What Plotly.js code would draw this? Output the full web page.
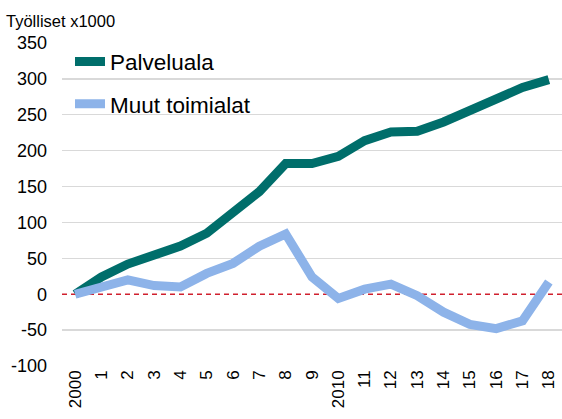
<!DOCTYPE html>
<html>
<head>
<meta charset="utf-8">
<script src="https://cdn.plot.ly/plotly-3.0.1.min.js"></script>
<style>html,body{margin:0;padding:0;background:#fff}#chart{width:562px;height:419px}</style>
</head>
<body>
<div id="chart"></div>
<script>
const years = [2000,2001,2002,2003,2004,2005,2006,2007,2008,2009,2010,2011,2012,2013,2014,2015,2016,2017,2018];
const tickLabels = ["2000","1","2","3","4","5","6","7","8","9","2010","11","12","13","14","15","16","17","18"];
const gridVals = [-100,-50,50,100,150,200,250,300,350];
const gridLabels = ["-100","-50","50","100","150","200","250","300","350"];
const zeroVals = [0];
const zeroLabels = ["0"];
const palveluala = [0,24,42,53,67,85,113,143,182,182,192,214,226,227,240,256,272,288,299];
const muutToimialat = [0,10,20,12,10,29,43,67,84,24,-6,7,14,-2,-25,-42,-48,-37,17];
const seriesNames = ["Palveluala","Muut toimialat"];
const titleText = 'Työlliset x1000';

const fontFam = '"Liberation Sans", Arial, sans-serif';
const yRange = [-100, 350];

const traces = [
  {x: [], y: [], yaxis: 'y2', type: 'scatter', mode: 'lines', showlegend: false, hoverinfo: 'skip'},
  {x: years, y: palveluala, name: seriesNames[0], type: 'scatter', mode: 'lines',
   line: {color: '#006E6B', width: 9}, legendgroup: 'a'},
  {x: years, y: muutToimialat, name: seriesNames[1], type: 'scatter', mode: 'lines',
   line: {color: '#8DB3E9', width: 9}, legendgroup: 'b'}
];

const tickFont = {size: 18, family: fontFam, color: '#000'};

const layout = {
  width: 562, height: 419,
  margin: {l: 62, r: 0, t: 43, b: 53, pad: 0},
  paper_bgcolor: '#ffffff', plot_bgcolor: '#ffffff',
  font: {family: fontFam, color: '#000'},
  showlegend: true,
  legend: {x: 0.016, y: 1.008, xanchor: 'left', yanchor: 'top', bgcolor: 'rgba(0,0,0,0)',
           font: {size: 22.5, family: fontFam, color: '#000'}, traceorder: 'grouped', tracegroupgap: 10},
  xaxis: {range: [1999.5, 2018.5], tickmode: 'array', tickvals: years, ticktext: tickLabels,
          tickangle: -90, showgrid: false, zeroline: false, showline: false, ticks: '',
          tickfont: {size: 17, family: fontFam, color: '#000'}, fixedrange: true},
  yaxis: {range: yRange, tickmode: 'array', tickvals: gridVals, ticktext: gridLabels,
          showgrid: true, gridcolor: '#d9d9d9', gridwidth: 1.3,
          zeroline: false, showline: false, ticks: '', ticklabelstandoff: 14,
          tickfont: tickFont, fixedrange: true},
  yaxis2: {range: yRange, overlaying: 'y', side: 'left', tickmode: 'array', tickvals: zeroVals, ticktext: zeroLabels,
          showgrid: false, zeroline: false, showline: false, ticks: '', ticklabelstandoff: 14,
          tickfont: tickFont, fixedrange: true},
  annotations: [
    {text: titleText, showarrow: false, xref: 'paper', yref: 'paper',
     x: (5 - 62) / 500, xanchor: 'left', y: 1 + (43 - 11) / 323, yanchor: 'top',
     font: {size: 16.5, family: fontFam, color: '#000'}, borderpad: 0}
  ],
  shapes: [
    {type: 'line', xref: 'paper', x0: 0, x1: 1, yref: 'y', y0: 0, y1: 0,
     line: {color: '#D0202E', width: 1.5, dash: '5px,4px'}, layer: 'below'}
  ]
};

Plotly.newPlot('chart', traces, layout, {staticPlot: true, displayModeBar: false});
</script>
</body>
</html>
